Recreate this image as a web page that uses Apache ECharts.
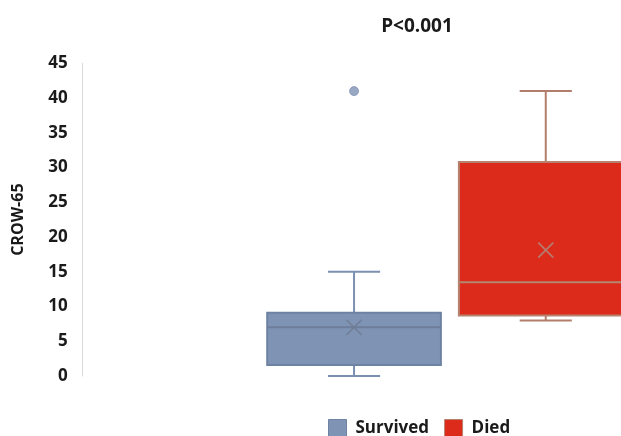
<!DOCTYPE html>
<html>
<head>
<meta charset="utf-8">
<title>CROW-65 by outcome</title>
<script src="https://cdn.jsdelivr.net/npm/echarts@6/dist/echarts.min.js"></script>
<style>
  html, body { margin: 0; padding: 0; background: #ffffff; }
  #chart { width: 621px; height: 436px; }
</style>
</head>
<body>
<div id="chart"></div>
<script>
// Groups and their five-number summaries: [min, Q1, median, Q3, max]
var groups = ['Survived', 'Died'];
var survivedBox = [0, 1.6, 7, 9.1, 15];
var diedBox = [8, 8.7, 13.5, 30.8, 41];
// Group means (drawn as crosses) and outliers
var means = [7.0, 18.1];
var survivedOutliers = [41];
var diedOutliers = [];
var yTicks = [0, 5, 10, 15, 20, 25, 30, 35, 40, 45];

var look = {
  Survived: { fill: '#7f94b5', border: '#6e82a3', whisker: '#7b8fb0', median: '#6d7d9a', mean: '#6f7b92' },
  Died:     { fill: '#dc2a1b', border: '#b7826f', whisker: '#b27e6b', median: '#b3876f', mean: '#ad8f82' }
};

var FONT = "'Open Sans', 'Liberation Sans', sans-serif";

function boxItem(idx, five) {
  return [idx].concat(five);
}

// Box, whiskers, caps and median line for one group
function renderBox(params, api) {
  var xi = api.value(0);
  var s = look[groups[xi]];
  var band = api.size([1, 0])[0];
  var lo = api.coord([xi, api.value(1)]);
  var cx = lo[0];
  var yMin = lo[1];
  var yQ1 = api.coord([xi, api.value(2)])[1];
  var yMed = api.coord([xi, api.value(3)])[1];
  var yQ3 = api.coord([xi, api.value(4)])[1];
  var yMax = api.coord([xi, api.value(5)])[1];
  var hw = band * 0.453;
  var cw = band * 0.136;
  var wStyle = { stroke: s.whisker, lineWidth: 2 };
  return {
    type: 'group',
    children: [
      { type: 'line', shape: { x1: cx, y1: yQ3, x2: cx, y2: yMax }, style: wStyle },
      { type: 'line', shape: { x1: cx, y1: yMin, x2: cx, y2: yQ1 }, style: wStyle },
      { type: 'line', shape: { x1: cx - cw, y1: yMax, x2: cx + cw, y2: yMax }, style: wStyle },
      { type: 'line', shape: { x1: cx - cw, y1: yMin, x2: cx + cw, y2: yMin }, style: wStyle },
      { type: 'rect', shape: { x: cx - hw, y: yQ3, width: hw * 2, height: yQ1 - yQ3 },
        style: { fill: s.fill, stroke: s.border, lineWidth: 2 } },
      { type: 'line', shape: { x1: cx - hw, y1: yMed, x2: cx + hw, y2: yMed },
        style: { stroke: s.median, lineWidth: 2 } }
    ]
  };
}

var chart = echarts.init(document.getElementById('chart'), null, { renderer: 'canvas' });

chart.setOption({
  animation: false,
  backgroundColor: '#ffffff',
  title: {
    text: 'P<0.001',
    left: 417,
    top: 17,
    textAlign: 'center',
    padding: 0,
    textStyle: { fontFamily: FONT, fontWeight: 'bold', fontSize: 19, color: '#1a1a1a' }
  },
  legend: {
    data: [
      { name: 'Survived', itemStyle: { color: look.Survived.fill, borderColor: look.Survived.border, borderWidth: 1 } },
      { name: 'Died', itemStyle: { color: look.Died.fill, borderColor: look.Died.border, borderWidth: 1 } }
    ],
    left: 328,
    top: 419,
    padding: 0,
    icon: 'rect',
    itemWidth: 18,
    itemHeight: 17,
    itemGap: 15,
    textStyle: { fontFamily: FONT, fontWeight: 'bold', fontSize: 17, color: '#1a1a1a', padding: [0, 0, 0, 4] }
  },
  grid: { left: 258.2, top: 63.3, width: 383.4, bottom: 60, outerBoundsMode: 'none', containLabel: false },
  xAxis: {
    type: 'category',
    data: groups,
    show: false
  },
  yAxis: {
    type: 'value',
    min: 0,
    max: 45,
    interval: 5,
    offset: 175.5,
    name: 'CROW-65',
    nameLocation: 'middle',
    nameGap: 56,
    nameTextStyle: { fontFamily: FONT, fontWeight: 'bold', fontSize: 16, color: '#1a1a1a' },
    axisLine: { show: true, lineStyle: { color: '#d9d9d9', width: 1 } },
    axisTick: { show: false },
    splitLine: { show: false },
    axisLabel: {
      margin: 15,
      fontFamily: FONT,
      fontWeight: 'bold',
      fontSize: 17,
      color: '#1a1a1a',
      customValues: yTicks
    }
  },
  series: [
    {
      name: 'Survived',
      type: 'custom',
      itemStyle: { color: look.Survived.fill },
      encode: { x: 0, y: [1, 2, 3, 4, 5] },
      renderItem: renderBox,
      data: [boxItem(0, survivedBox)],
      z: 2
    },
    {
      name: 'Died',
      type: 'custom',
      itemStyle: { color: look.Died.fill },
      encode: { x: 0, y: [1, 2, 3, 4, 5] },
      renderItem: renderBox,
      data: [boxItem(1, diedBox)],
      z: 2
    },
    {
      name: 'Mean',
      type: 'scatter',
      symbol: 'path://M0,0L10,10M10,0L0,10',
      symbolSize: 15,
      z: 3,
      data: means.map(function (m, i) {
        return {
          value: [i, m],
          itemStyle: { color: 'none', borderColor: look[groups[i]].mean, borderWidth: 1.8 }
        };
      })
    },
    {
      name: 'Outliers',
      type: 'scatter',
      symbol: 'circle',
      symbolSize: 9,
      z: 3,
      data: survivedOutliers.map(function (v) {
        return { value: [0, v], itemStyle: { color: look.Survived.fill, borderColor: look.Survived.border, borderWidth: 0.8 } };
      }).concat(diedOutliers.map(function (v) {
        return { value: [1, v], itemStyle: { color: look.Died.fill } };
      }))
    }
  ]
});
</script>
</body>
</html>
